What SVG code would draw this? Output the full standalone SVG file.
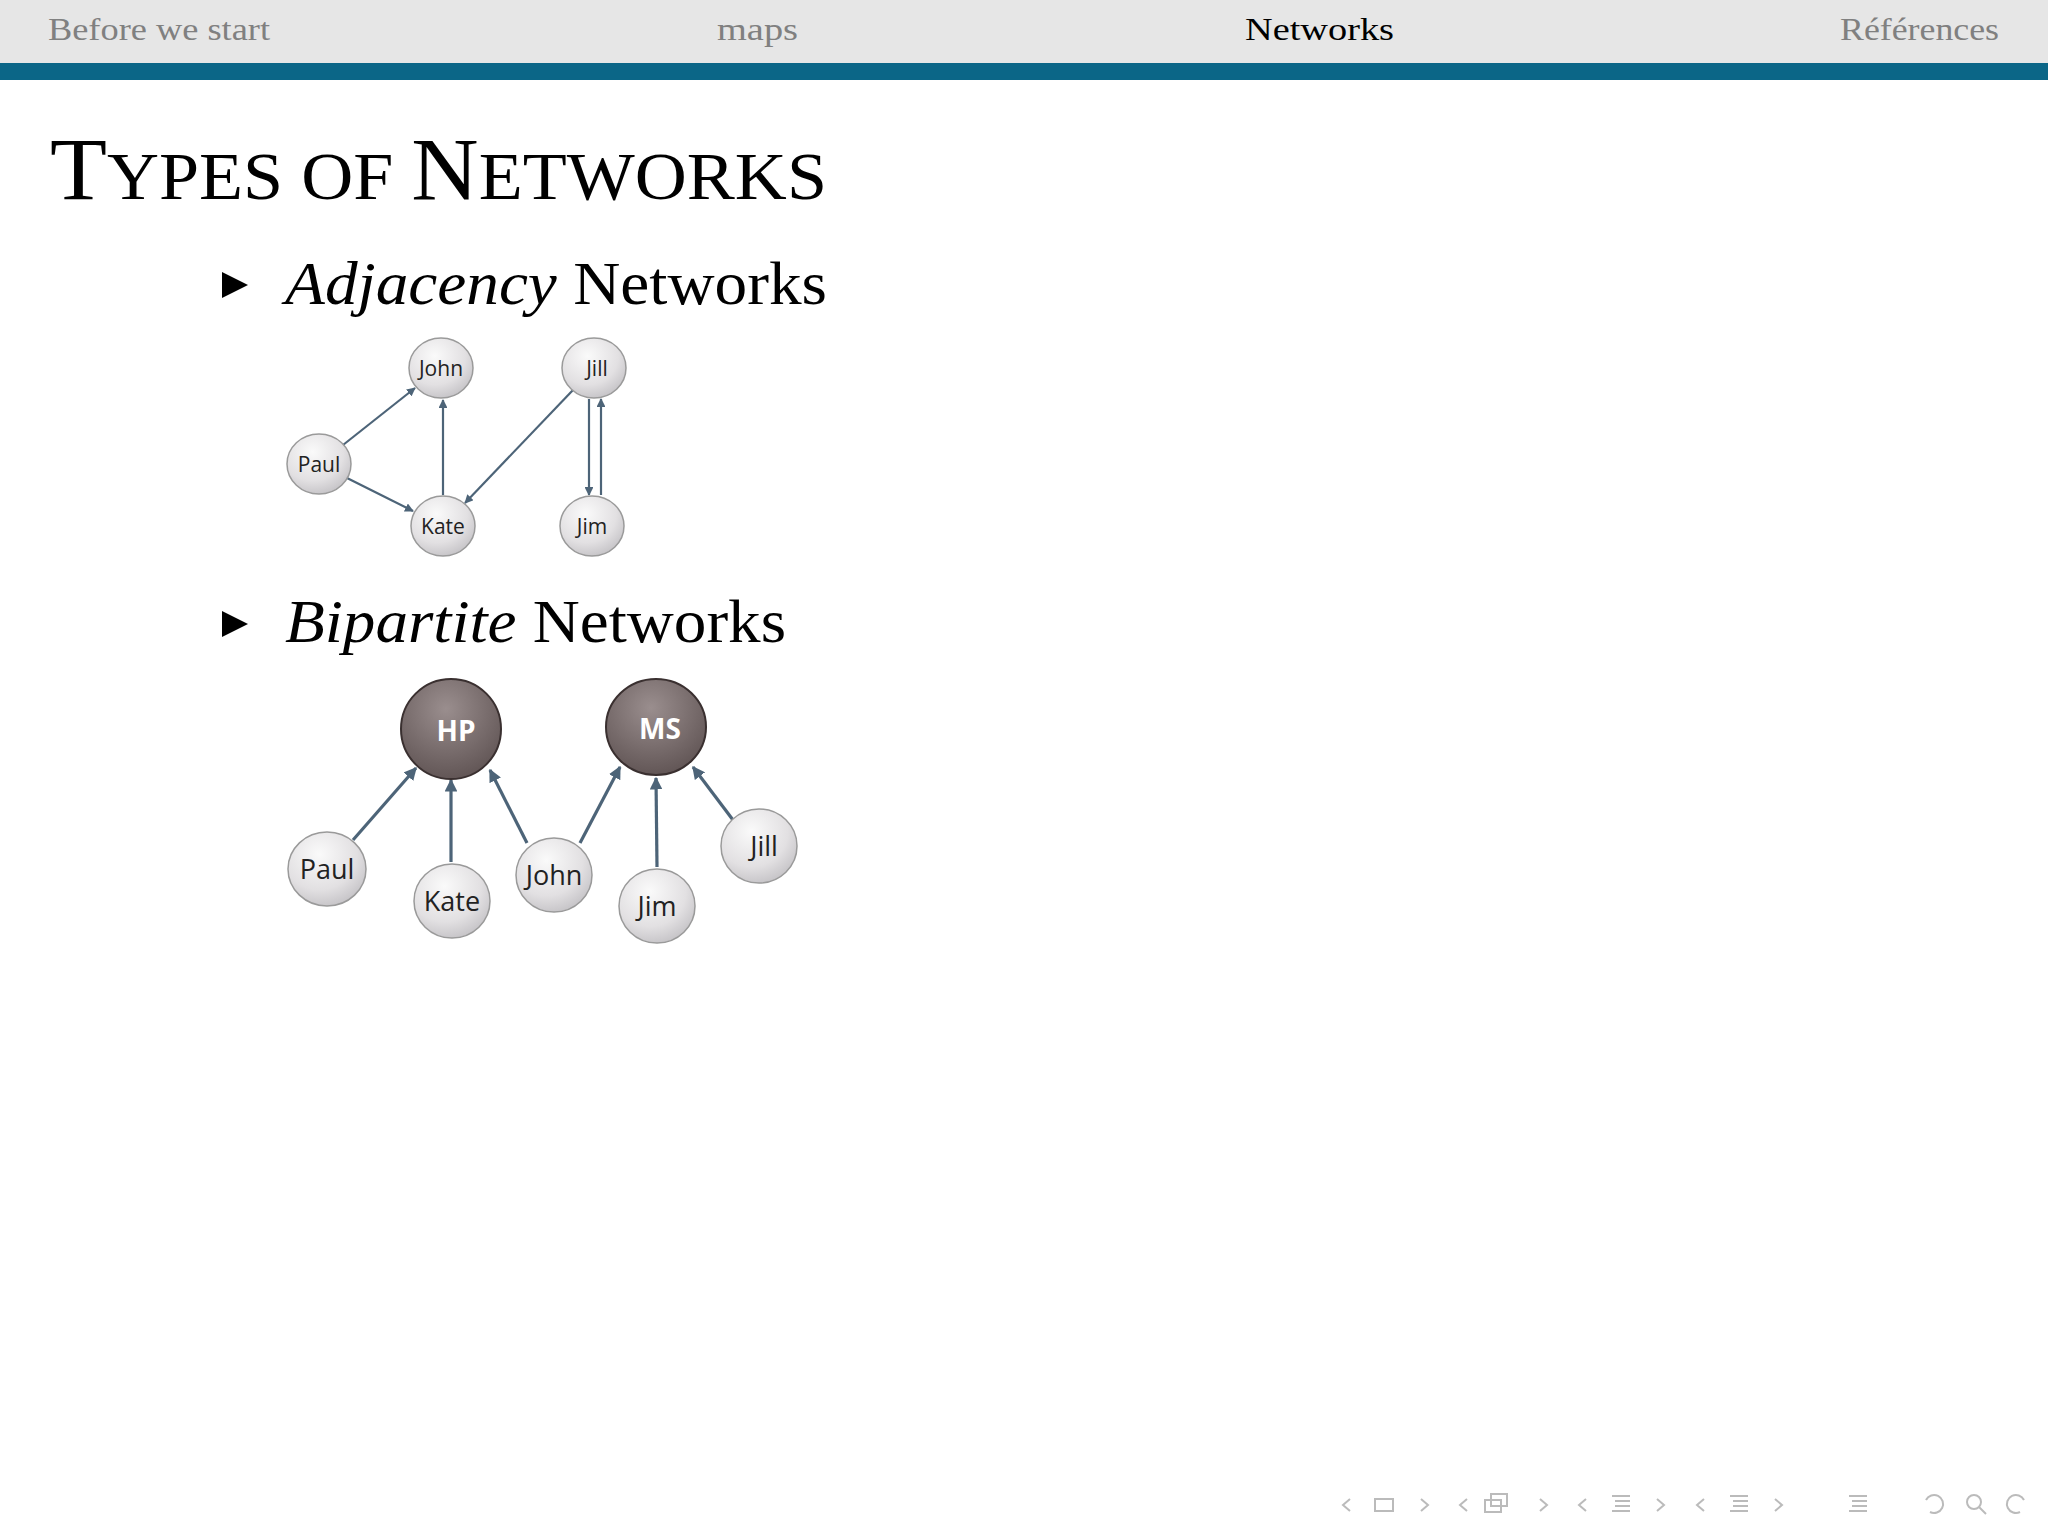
<svg xmlns="http://www.w3.org/2000/svg" width="2048" height="1536" viewBox="0 0 2048 1536">
<defs>
<radialGradient id="lg" cx="0.4" cy="0.3" r="0.8"><stop offset="0" stop-color="#fafafa"/><stop offset="0.6" stop-color="#e2e0e2"/><stop offset="1" stop-color="#bdbbbf"/></radialGradient>
<radialGradient id="dg" cx="0.45" cy="0.3" r="0.8"><stop offset="0" stop-color="#9a8e8e"/><stop offset="1" stop-color="#5a4e4e"/></radialGradient>
<marker id="ah" viewBox="0 0 10 10" refX="9" refY="5" markerWidth="4" markerHeight="4" orient="auto-start-reverse"><path d="M0,0 L10,5 L0,10 z" fill="#4d6478"/></marker>
<style>
.hd{font-family:"Liberation Serif",serif;font-size:32px;fill:#808080}
.ln{fill:url(#lg);stroke:#9a9a9a;stroke-width:1.5}
.dn{fill:url(#dg);stroke:#3a3030;stroke-width:2}
.t1{font-family:"Open Sans","DejaVu Sans",sans-serif;font-size:21px;fill:#222;text-anchor:middle}
.t2{font-family:"Open Sans","DejaVu Sans",sans-serif;font-size:27px;fill:#222;text-anchor:middle}
.t3{font-family:"Open Sans","DejaVu Sans",sans-serif;font-size:28px;font-weight:bold;fill:#fff;text-anchor:middle}
.e{stroke:#4d6478;stroke-width:2.2;fill:none;marker-end:url(#ah)}
.e2{stroke:#4d6478;stroke-width:3.2;fill:none;marker-end:url(#ah)}
.big{font-family:"Liberation Serif",serif;font-size:62px;fill:#000}
.nav{fill:none;stroke:#bbb;stroke-width:2}
</style>
</defs>
<rect width="2048" height="1536" fill="#fff"/>
<rect width="2048" height="63" fill="#e6e6e6"/>
<rect y="63" width="2048" height="17" fill="#0b6687"/>
<text class="hd" x="48" y="40" textLength="222" lengthAdjust="spacingAndGlyphs">Before we start</text>
<text class="hd" x="717" y="40" textLength="81" lengthAdjust="spacingAndGlyphs">maps</text>
<text class="hd" x="1245" y="40" textLength="149" lengthAdjust="spacingAndGlyphs" style="fill:#000">Networks</text>
<text class="hd" x="1840" y="40" textLength="159" lengthAdjust="spacingAndGlyphs">Références</text>
<text x="50" y="199" font-family="Liberation Serif,serif" font-size="88" fill="#000" textLength="777" lengthAdjust="spacingAndGlyphs">T<tspan font-size="68">YPES OF </tspan>N<tspan font-size="68">ETWORKS</tspan></text>
<path d="M222,272 L248,285 L222,298 z" fill="#000"/>
<text class="big" x="285" y="304" textLength="542" lengthAdjust="spacingAndGlyphs"><tspan font-style="italic">Adjacency</tspan> Networks</text>
<path d="M222,611 L248,624 L222,637 z" fill="#000"/>
<text class="big" x="285" y="642" textLength="501" lengthAdjust="spacingAndGlyphs"><tspan font-style="italic">Bipartite</tspan> Networks</text>
<g id="connectors">
<line class="e" x1="343" y1="445" x2="415" y2="388"/>
<line class="e" x1="347" y1="478" x2="413" y2="511"/>
<line class="e" x1="443" y1="495" x2="443" y2="400"/>
<line class="e" x1="573" y1="390" x2="465" y2="503"/>
<line class="e" x1="589" y1="399" x2="589" y2="495"/>
<line class="e" x1="601" y1="495" x2="601" y2="399"/>
<line class="e2" x1="353" y1="840" x2="416" y2="768"/>
<line class="e2" x1="451" y1="862" x2="451" y2="780"/>
<line class="e2" x1="527" y1="843" x2="490" y2="770"/>
<line class="e2" x1="580" y1="843" x2="620" y2="767"/>
<line class="e2" x1="657" y1="867" x2="656" y2="778"/>
<line class="e2" x1="733" y1="820" x2="693" y2="767"/>
</g>
<g id="a-john"><ellipse class="ln" cx="441" cy="368" rx="32" ry="30"/><text class="t1" x="441" y="376">John</text></g>
<g id="a-jill"><ellipse class="ln" cx="594" cy="368" rx="32" ry="30"/><text class="t1" x="597" y="376">Jill</text></g>
<g id="a-paul"><ellipse class="ln" cx="319" cy="464" rx="32" ry="30"/><text class="t1" x="319" y="472">Paul</text></g>
<g id="a-kate"><ellipse class="ln" cx="443" cy="526" rx="32" ry="30"/><text class="t1" x="443" y="534">Kate</text></g>
<g id="a-jim"><ellipse class="ln" cx="592" cy="526" rx="32" ry="30"/><text class="t1" x="592" y="534">Jim</text></g>
<g id="b-hp"><ellipse class="dn" cx="451" cy="729" rx="50" ry="50"/><text class="t3" x="456" y="741">HP</text></g>
<g id="b-ms"><ellipse class="dn" cx="656" cy="727" rx="50" ry="48"/><text class="t3" x="660" y="739">MS</text></g>
<g id="b-paul"><ellipse class="ln" cx="327" cy="869" rx="39" ry="37"/><text class="t2" x="327" y="879">Paul</text></g>
<g id="b-kate"><ellipse class="ln" cx="452" cy="901" rx="38" ry="37"/><text class="t2" x="452" y="911">Kate</text></g>
<g id="b-john"><ellipse class="ln" cx="554" cy="875" rx="38" ry="37"/><text class="t2" x="554" y="885">John</text></g>
<g id="b-jim"><ellipse class="ln" cx="657" cy="906" rx="38" ry="37"/><text class="t2" x="657" y="916">Jim</text></g>
<g id="b-jill"><ellipse class="ln" cx="759" cy="846" rx="38" ry="37"/><text class="t2" x="764" y="856">Jill</text></g>
<g id="footer-nav">
<path d="M1350,1499 L1343,1505 L1350,1511" class="nav"/><rect x="1375" y="1499" width="18" height="12" class="nav"/><path d="M1421,1499 L1428,1505 L1421,1511" class="nav"/>
<path d="M1467,1499 L1460,1505 L1467,1511" class="nav"/><rect x="1485" y="1500" width="16" height="12" class="nav"/><rect x="1491" y="1494" width="16" height="12" class="nav"/><path d="M1540,1499 L1547,1505 L1540,1511" class="nav"/>
<path d="M1586,1499 L1579,1505 L1586,1511" class="nav"/><path d="M1612,1496 H1630 M1615,1501 H1630 M1615,1506 H1630 M1612,1511 H1630" class="nav"/><path d="M1657,1499 L1664,1505 L1657,1511" class="nav"/>
<path d="M1704,1499 L1697,1505 L1704,1511" class="nav"/><path d="M1730,1496 H1748 M1733,1501 H1748 M1733,1506 H1748 M1730,1511 H1748" class="nav"/><path d="M1775,1499 L1782,1505 L1775,1511" class="nav"/>
<path d="M1849,1496 H1867 M1852,1501 H1867 M1852,1506 H1867 M1849,1511 H1867" class="nav"/>
<path d="M1926,1500 A9,9 0 1 1 1930,1512" class="nav"/><circle cx="1974" cy="1502" r="7" class="nav"/><path d="M1979,1507 L1986,1514" class="nav"/><path d="M2024,1500 A9,9 0 1 0 2020,1512" class="nav"/>
</g>
</svg>
